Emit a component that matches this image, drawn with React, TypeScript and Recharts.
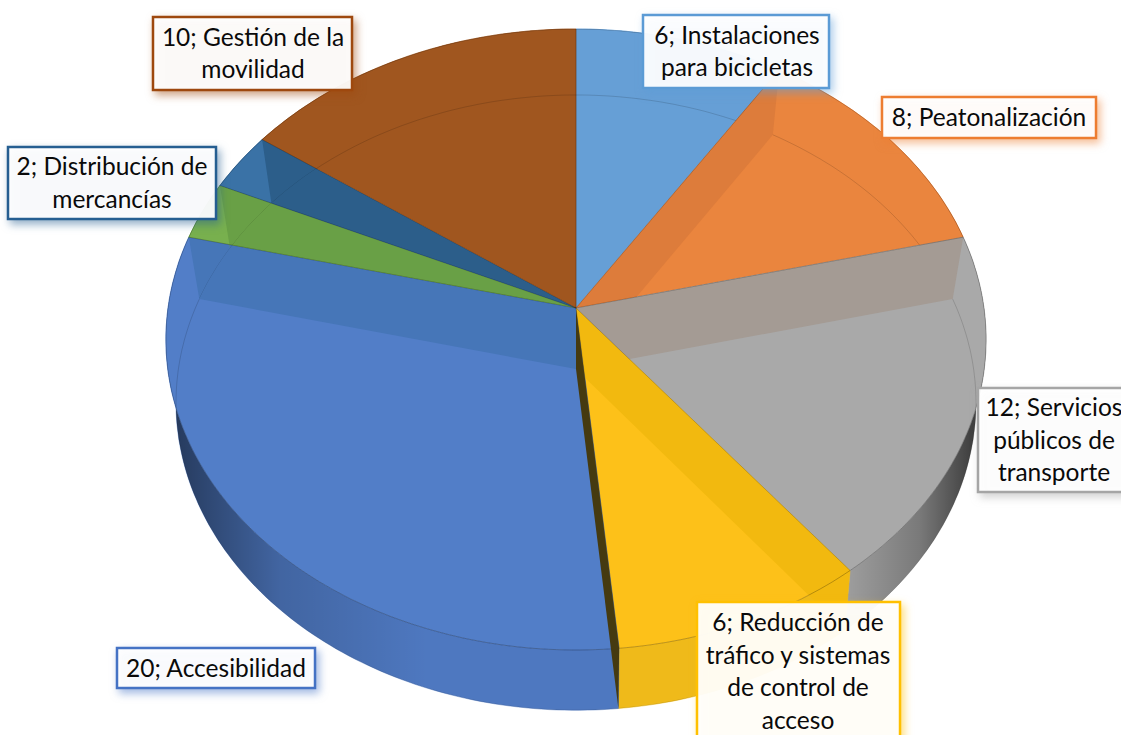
import React from 'react';
import { PieChart, Pie } from 'recharts';

const categories = [
  ['Instalaciones', 'para bicicletas'],
  ['Peatonalización'],
  ['Servicios', 'públicos de', 'transporte'],
  ['Reducción de', 'tráfico y sistemas', 'de control de', 'acceso'],
  ['Accesibilidad'],
  [],
  ['Distribución de', 'mercancías'],
  ['Gestión de la', 'movilidad']
];
const values = [6, 8, 12, 6, 20, 2, 2, 10];
const faceColors = ['#669fd6', '#ea853e', '#a9a9a9', '#fdc119', '#527ec8', '#78b04e', '#3a72a6', '#a0561f'];
const bandColors = ['#669fd6', '#dd7c3b', '#a49b94', '#f2b90f', '#4676b8', '#69a046', '#2c5e8a', '#a0561f'];
const wallColors = ['#5f96c9', '#d97a38', '#a2a2a2', '#efba1a', '#4e78c0', '#6a9f45', '#33648f', '#8f4d1c'];
const borderColors = ['#5b9bd5', '#ed7d31', '#a5a5a5', '#ffc000', '#4472c4', '#70ad47', '#255e91', '#9e480e'];
// label box: left, top, width, height, text centre x
const labelBoxes = [
  [643, 15, 186, 73, 737],
  [882, 97, 214, 41, 989],
  [978, 388, 150, 104, 1054],
  [697, 602, 203, 140, 798],
  [117, 648, 198, 40, 216],
  null,
  [8, 147, 208, 72, 112],
  [153, 17, 199, 73, 253]
];

const tableData = values.map((value, idx) => ({
  idx,
  name: categories[idx].join(' '),
  value,
  fill: faceColors[idx]
}));

const FONT = 'Lato, Carlito, Calibri, sans-serif';
const RADIUS = 408;
const TOP_RIM = { p: 0.1014, sx: 1, sy: 0.7532, dy: 0 };
const BOTTOM_RIM = { p: 0.1093, sx: 0.9745, sy: 0.745, dy: 61 };

type Rim = typeof TOP_RIM;

// recharts hands over flat pie angles, these put them on the tilted disc
const project = (p: any, rim: Rim, deg: number) => {
  const t = ((90 - deg) * Math.PI) / 180;
  const u = Math.sin(t);
  const v = Math.cos(t);
  const d = 1 + rim.p * v;
  return [p.cx + (p.outerRadius * rim.sx * u) / d, p.cy + rim.dy - (p.outerRadius * rim.sy * v) / d];
};

const arc = (p: any, rim: Rim, from: number, to: number) => {
  const steps = Math.max(2, Math.ceil(Math.abs(to - from)));
  const pts = [];
  for (let i = 0; i <= steps; i++) pts.push(project(p, rim, from + ((to - from) * i) / steps));
  return pts;
};

const toPath = (pts: number[][], close = true) =>
  'M' + pts.map((q) => `${q[0].toFixed(1)},${q[1].toFixed(1)}`).join('L') + (close ? 'Z' : '');

const apex = (p: any, rim: Rim) => [p.cx, p.cy + rim.dy];

const facePath = (p: any) => toPath([apex(p, TOP_RIM), ...arc(p, TOP_RIM, p.startAngle, p.endAngle)]);
const wallPath = (p: any) =>
  toPath([...arc(p, TOP_RIM, p.startAngle, p.endAngle), ...arc(p, BOTTOM_RIM, p.endAngle, p.startAngle)]);

const cutWall = (p: any, deg: number) =>
  toPath([apex(p, TOP_RIM), project(p, TOP_RIM, deg), project(p, BOTTOM_RIM, deg), apex(p, BOTTOM_RIM)]);

// outer side of the disc
const WallShape = (p: any) => (
  <g>
    <path d={wallPath(p)} fill={wallColors[p.idx]} stroke={wallColors[p.idx]} strokeWidth={0.5} />
    <path d={wallPath(p)} fill="url(#wallShade)" />
  </g>
);

// flat top of the disc
const FaceShape = (p: any) => <path d={facePath(p)} fill={p.fill} stroke={p.fill} strokeWidth={0.5} />;

// cut walls and bottom rim, seen through the top
const DetailShape = (p: any) => {
  const clipId = `slice-${p.idx}`;
  const mid = 90 - (p.startAngle + p.endAngle) / 2;
  const edge = mid < 180 ? p.startAngle : p.endAngle;
  const spansFront = 90 - p.startAngle < 180 && 90 - p.endAngle > 180;
  return (
    <g>
      <clipPath id={clipId}>
        <path d={facePath(p)} />
        <path d={wallPath(p)} />
      </clipPath>
      <g clipPath={`url(#${clipId})`}>
        <path d={cutWall(p, edge)} fill={bandColors[p.idx]} />
        <path d={toPath(arc(p, BOTTOM_RIM, p.startAngle, p.endAngle), false)} fill="none" stroke="rgba(0,0,0,0.14)" strokeWidth={1} />
        <path d={toPath(arc(p, TOP_RIM, p.startAngle, p.endAngle), false)} fill="none" stroke="rgba(0,0,0,0.25)" strokeWidth={1} />
      </g>
      <path
        d={toPath([apex(p, TOP_RIM), project(p, TOP_RIM, p.startAngle)], false)}
        stroke="rgba(0,0,0,0.22)"
        strokeWidth={1}
        fill="none"
      />
      {spansFront && <path d={cutWall(p, p.startAngle)} fill="#453a10" />}
    </g>
  );
};

const renderLabel = (p: any) => {
  const box = labelBoxes[p.idx];
  if (!box) return null;
  const [x, y, w, h, tx] = box;
  const lines = categories[p.idx];
  const color = borderColors[p.idx];
  const lineHeight = 32.5;
  const first = y - 1 + (p.idx === 3 ? 20.5 : h / 2 - ((lines.length - 1) * lineHeight) / 2);
  return (
    <g key={p.idx}>
      <rect
        x={x}
        y={y}
        width={w}
        height={h}
        fill="rgba(255,255,255,0.94)"
        stroke={color}
        strokeWidth={2.5}
        style={{ filter: `drop-shadow(3px 4px 4px ${color}88)` }}
      />
      {lines.map((line, i) => (
        <text
          key={line}
          x={tx}
          y={first + i * lineHeight}
          textAnchor="middle"
          dominantBaseline="central"
          fontFamily={FONT}
          fontSize={24.5}
          fill="#0a0a0a"
        >
          {i === 0 ? `${p.value}; ${line}` : line}
        </text>
      ))}
    </g>
  );
};

const pieProps = {
  data: tableData,
  dataKey: 'value',
  nameKey: 'name',
  cx: 576,
  cy: 308,
  innerRadius: 0,
  outerRadius: RADIUS,
  startAngle: 90,
  endAngle: -270,
  stroke: 'none',
  isAnimationActive: false,
  labelLine: false
};

const App: React.FC = () => (
  <div style={{ position: 'absolute', left: 0, top: 0, width: 1121, height: 735, overflow: 'hidden', background: '#fff' }}>
    <PieChart width={1121} height={735} margin={{ top: 0, right: 0, bottom: 0, left: 0 }}>
      <defs>
        <linearGradient id="wallShade" gradientUnits="userSpaceOnUse" x1={165} y1={0} x2={985} y2={0}>
          <stop offset="0" stopColor="#000" stopOpacity={0.55} />
          <stop offset="0.06" stopColor="#000" stopOpacity={0.38} />
          <stop offset="0.14" stopColor="#000" stopOpacity={0.16} />
          <stop offset="0.32" stopColor="#000" stopOpacity={0} />
          <stop offset="0.82" stopColor="#000" stopOpacity={0} />
          <stop offset="0.92" stopColor="#000" stopOpacity={0.25} />
          <stop offset="1" stopColor="#000" stopOpacity={0.7} />
        </linearGradient>
      </defs>
      <Pie {...pieProps} shape={WallShape} />
      <Pie {...pieProps} shape={FaceShape} />
      <Pie {...pieProps} shape={DetailShape} label={renderLabel} />
    </PieChart>
  </div>
);

export default App;
